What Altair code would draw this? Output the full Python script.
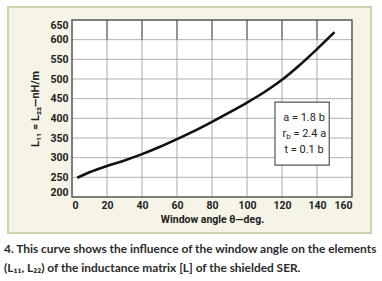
import altair as alt
import pandas as pd

# Inductance L11 = L22 (nH/m) versus window angle (deg)
angle_deg = [3, 10, 20, 30, 40, 50, 60, 70, 80, 90, 100, 110, 120, 130, 140, 150]
l11_nh_per_m = [249, 263, 279, 293, 309, 327, 347, 368, 391, 415, 440, 467, 498, 535, 576, 619]

x_ticks = [0, 20, 40, 60, 80, 100, 120, 140, 160]
y_ticks = [200, 250, 300, 350, 400, 450, 500, 550, 600, 650]

param_lines = ["a = 1.8 b", "= 2.4 a", "t = 0.1 b"]
caption_lines = [
    "4. This curve shows the influence of the window angle on the elements",
    "(L\u2081\u2081, L\u2082\u2082) of the inductance matrix [L] of the shielded SER.",
]

FONT = "Roboto, sans-serif"
CAP_FONT = "Lato, Open Sans, sans-serif"
INK = "#222222"

W, H = 280, 177
x_scale = alt.Scale(domain=[0, 160], nice=False, zero=False)
y_scale = alt.Scale(domain=[200, 650], nice=False, zero=False)

x_axis = alt.Axis(
    values=x_ticks, grid=False, domain=False, ticks=False, labelFlush=True,
    labelFont=FONT, labelFontSize=10.5, labelFontWeight="bold", labelColor=INK,
    labelPadding=3, title="Window angle \u03b8\u2014deg.", titleFont=FONT,
    titleFontSize=10.5, titleFontWeight="bold", titleColor=INK, titlePadding=4,
    zindex=1,
)
y_axis = alt.Axis(
    values=y_ticks, grid=False, domain=False, ticks=False, labelFlush=True,
    labelFont=FONT, labelFontSize=10.5, labelFontWeight="bold", labelColor=INK,
    labelPadding=4, title="L\u2081\u2081 = L\u2082\u2082\u2014nH/m", titleFont=FONT,
    titleFontSize=11, titleFontWeight="bold", titleColor=INK, titlePadding=9,
    zindex=1,
)


def X(field):
    return alt.X(field, type="quantitative", scale=x_scale, axis=x_axis)


def Y(field):
    return alt.Y(field, type="quantitative", scale=y_scale, axis=y_axis)


one = pd.DataFrame({"k": [0]})

# beige framed panel behind the figure
panel = alt.Chart(one).mark_rect(
    fill="#f5f4e7", stroke="#c9d6aa", strokeWidth=2
).encode(x=alt.value(-64), x2=alt.value(299), y=alt.value(-13), y2=alt.value(213))

plot_box = pd.DataFrame({"x0": [0], "x1": [160], "y0": [200], "y1": [650]})
plot_bg = alt.Chart(plot_box).mark_rect(fill="white").encode(
    x=X("x0"), x2="x1", y=Y("y0"), y2="y1"
)

inner_x = x_ticks[1:-1]
inner_y = y_ticks[1:-1]
vgrid = alt.Chart(pd.DataFrame({"gx": inner_x, "y0": 200, "y1": 600})).mark_rule(
    color="#a8a8a8", strokeWidth=1
).encode(x=X("gx"), y=Y("y0"), y2="y1")
vgrid_top = alt.Chart(pd.DataFrame({"gx": inner_x, "y0": 600, "y1": 650})).mark_rule(
    color="#707070", strokeWidth=1.5
).encode(x=X("gx"), y=Y("y0"), y2="y1")
hgrid = alt.Chart(pd.DataFrame({"gy": inner_y, "x0": 0, "x1": 160})).mark_rule(
    color="#b0b0b0", strokeWidth=1
).encode(y=Y("gy"), x=X("x0"), x2="x1")

curve = alt.Chart(pd.DataFrame({"angle": angle_deg, "L": l11_nh_per_m})).mark_line(
    color="#111111", strokeWidth=2.6, interpolate="monotone"
).encode(x=X("angle"), y=Y("L"))

border = alt.Chart(plot_box).mark_rect(
    fillOpacity=0, stroke="#555555", strokeWidth=1.5
).encode(x=X("x0"), x2="x1", y=Y("y0"), y2="y1")

# parameter legend box
legend_box = pd.DataFrame({"x0": [116], "x1": [147], "y0": [281], "y1": [441]})
box = alt.Chart(legend_box).mark_rect(
    fill="white", stroke="#555555", strokeWidth=1.2
).encode(x=X("x0"), x2="x1", y=Y("y0"), y2="y1")

txt_style = dict(font=FONT, fontSize=11, color=INK, baseline="middle")
line_a = alt.Chart(one).mark_text(align="center", **txt_style).encode(
    x=alt.value(232), y=alt.value(98), text=alt.value(param_lines[0])
)
line_r = alt.Chart(one).mark_text(align="left", **txt_style).encode(
    x=alt.value(210.5), y=alt.value(114), text=alt.value("r")
)
line_rb = alt.Chart(one).mark_text(
    align="left", font=FONT, fontSize=8, color=INK, baseline="middle"
).encode(x=alt.value(214.3), y=alt.value(117), text=alt.value("b"))
line_r2 = alt.Chart(one).mark_text(align="left", **txt_style).encode(
    x=alt.value(221.5), y=alt.value(114), text=alt.value(param_lines[1])
)
line_t = alt.Chart(one).mark_text(align="center", **txt_style).encode(
    x=alt.value(232), y=alt.value(130), text=alt.value(param_lines[2])
)

cap_style = dict(font=CAP_FONT, fontSize=11.9, fontWeight="bold", color="#2a2a2a",
                 align="left", baseline="middle")
cap1 = alt.Chart(one).mark_text(**cap_style).encode(
    x=alt.value(-68), y=alt.value(229), text=alt.value(caption_lines[0])
)
cap2 = alt.Chart(one).mark_text(**cap_style).encode(
    x=alt.value(-68), y=alt.value(248), text=alt.value(caption_lines[1])
)

chart = alt.layer(
    panel, plot_bg, hgrid, vgrid, vgrid_top, curve, border, box,
    line_a, line_r, line_rb, line_r2, line_t, cap1, cap2,
).properties(
    width=W, height=H,
    autosize=alt.AutoSizeParams(type="none"),
    padding={"left": 72, "top": 20, "right": 30, "bottom": 84},
    background="white",
).configure_view(stroke=None)

chart.save("out.html", embed_options={"renderer": "svg", "actions": False})
